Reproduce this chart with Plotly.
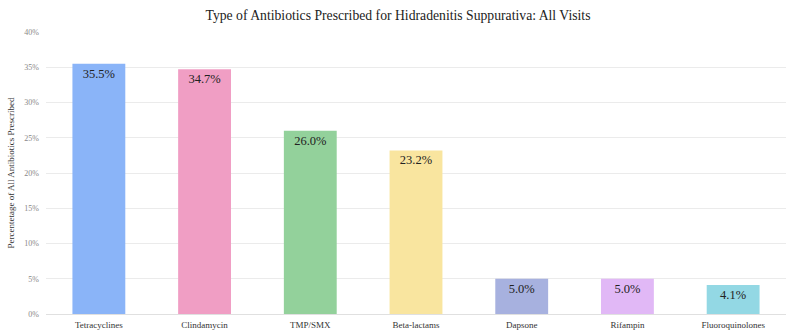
import plotly.graph_objects as go

categories = ["Tetracyclines", "Clindamycin", "TMP/SMX", "Beta-lactams", "Dapsone", "Rifampin", "Fluoroquinolones"]
values = [35.5, 34.7, 26.0, 23.2, 5.0, 5.0, 4.1]
colors = ["#8ab4f8", "#f09ec4", "#93d19b", "#f9e59f", "#a7b1df", "#e1b8f6", "#93d8e4"]
tick_vals = [0, 5, 10, 15, 20, 25, 30, 35, 40]
tick_text = ["0%", "5%", "10%", "15%", "20%", "25%", "30%", "35%", "40%"]

serif = "Liberation Serif"

fig = go.Figure(go.Bar(
    x=categories, y=values,
    marker=dict(color=colors, line=dict(width=0)),
    text=[f"{v:.1f}%" for v in values],
    textposition="inside", insidetextanchor="end",
    textfont=dict(family=serif, size=12.5, color="#222222"),
    cliponaxis=False,
))

fig.update_layout(
    width=796, height=334,
    margin=dict(l=46, r=10, t=32, b=20, autoexpand=False),
    paper_bgcolor="white", plot_bgcolor="white",
    bargap=0.5,
    showlegend=False,
    title=dict(text="Type of Antibiotics Prescribed for Hidradenitis Suppurativa: All Visits",
               x=0.5, xanchor="center", y=0.955, yanchor="middle",
               font=dict(family=serif, size=13.7, color="#222222")),
    font=dict(family=serif),
)
fig.update_xaxes(
    tickfont=dict(family=serif, size=9, color="#333333"),
    showline=True, linecolor="#e0e0e0", linewidth=1,
    ticks="", showgrid=False, ticklabelstandoff=2, automargin=False,
)
fig.update_yaxes(
    range=[0, 40], tickvals=tick_vals, ticktext=tick_text,
    tickfont=dict(family=serif, size=8, color="#888888"),
    showgrid=True, gridcolor="#ebebeb", gridwidth=1,
    zeroline=False, ticks="", ticklabelstandoff=6, automargin=False,
    title=dict(text="Percentetage of All Antibiotics Prescribed",
               font=dict(family=serif, size=9, color="#333333"), standoff=8),
)

fig.write_html("out.html")
